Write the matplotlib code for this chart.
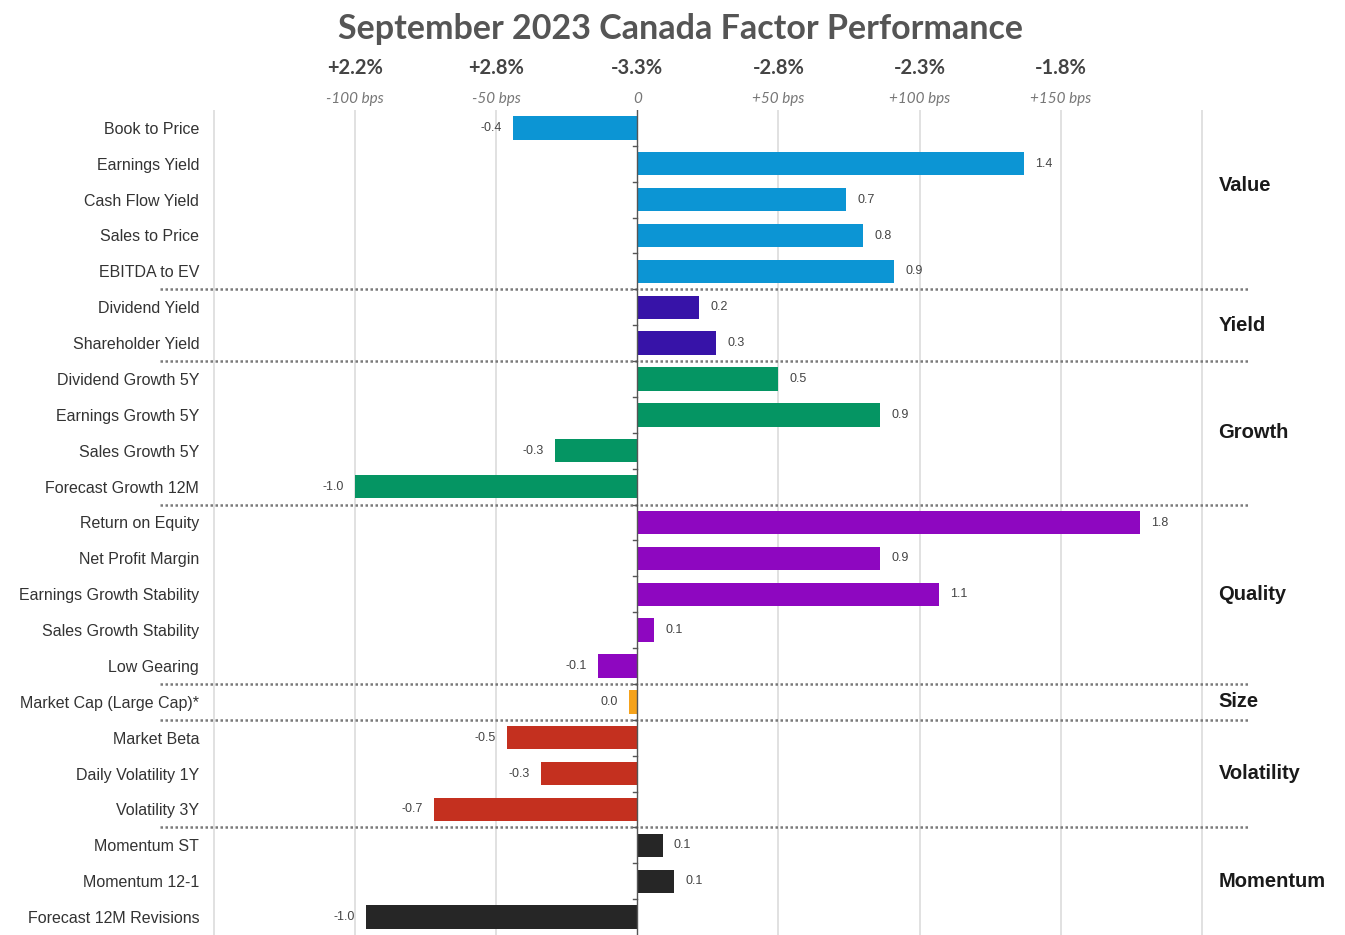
import numpy as np
import matplotlib
matplotlib.use("Agg")
import matplotlib.pyplot as plt
import matplotlib.transforms as mtransforms

# factor names, top to bottom
factors = ["Book to Price", "Earnings Yield", "Cash Flow Yield", "Sales to Price", "EBITDA to EV",
           "Dividend Yield", "Shareholder Yield",
           "Dividend Growth 5Y", "Earnings Growth 5Y", "Sales Growth 5Y", "Forecast Growth 12M",
           "Return on Equity", "Net Profit Margin", "Earnings Growth Stability",
           "Sales Growth Stability", "Low Gearing",
           "Market Cap (Large Cap)*",
           "Market Beta", "Daily Volatility 1Y", "Volatility 3Y",
           "Momentum ST", "Momentum 12-1", "Forecast 12M Revisions"]

# relative performance in %
values = [-0.44, 1.37, 0.74, 0.80, 0.91,
          0.22, 0.28,
          0.50, 0.86, -0.29, -1.00,
          1.78, 0.86, 1.07, 0.06, -0.14,
          -0.03,
          -0.46, -0.34, -0.72,
          0.09, 0.13, -0.96]

groups = ["Value", "Yield", "Growth", "Quality", "Size", "Volatility", "Momentum"]
group_sizes = [5, 2, 4, 5, 1, 3, 3]
group_colors = ["#0C95D4", "#3713A8", "#059563", "#8E07C0", "#F5A21B", "#C4301F", "#262626"]

# top axis labels
top_ticks = [-1.0, -0.5, 0.0, 0.5, 1.0, 1.5]
top_returns = ["+2.2%", "+2.8%", "-3.3%", "-2.8%", "-2.3%", "-1.8%"]
top_bps = ["-100 bps", "-50 bps", "0", "+50 bps", "+100 bps", "+150 bps"]

colors = []
for c, n in zip(group_colors, group_sizes):
    colors += [c] * n

fig = plt.figure(figsize=(13.45, 9.35), dpi=100)
ax = fig.add_axes([160 / 1345, 0.0, 1090 / 1345, 825 / 935])

y = np.arange(len(factors))
ax.barh(y, values, height=0.65, color=colors, zorder=3)

ax.set_ylim(len(factors) - 0.5, -0.5)
ax.set_xlim(-1.69, 2.17)

# vertical grid
for g in np.arange(-1.5, 2.01, 0.5):
    if abs(g) > 1e-9:
        ax.axvline(g, color="#dcdcdc", lw=1.2, zorder=1)
ax.axvline(0, color="#555555", lw=1.0, zorder=4)
# small ticks on the zero line
for b in np.arange(0.5, len(factors) - 0.5, 1):
    ax.plot([-0.015, 0], [b, b], color="#555555", lw=1.0, zorder=4)

for s in ax.spines.values():
    s.set_visible(False)
ax.set_xticks([])
ax.set_yticks([])

trans = mtransforms.blended_transform_factory(ax.transAxes, ax.transData)

# separators and group labels
start = 0
for g, n in zip(groups, group_sizes):
    end = start + n
    if end < len(factors):
        ax.axhline(end - 0.5, color="#7a7a7a", lw=1.8, ls=(0, (1, 1)), zorder=2)
    mid = (start + end - 1) / 2
    if g == "Value":
        mid = 1.6
    ax.text(0.971, mid, g, transform=trans,
            ha="left", va="center", fontsize=14.5, fontweight="bold", color="#1a1a1a",
            family="Liberation Sans", clip_on=False)
    start = end

# category labels
for i, f in enumerate(factors):
    ax.text(0.036, i + 0.04, f, transform=trans, ha="right", va="center",
            fontsize=11.5, color="#333333", family="Liberation Sans")

# value labels
for i, v in enumerate(values):
    txt = f"{v:.1f}"
    if txt == "-0.0":
        txt = "0.0"
    off = 8 if v >= 0 else -8
    if abs(v) < 0.05:
        off = -8
    ax.annotate(txt, (v, i), xytext=(off, 0), textcoords="offset points",
                ha="left" if off > 0 else "right", va="center",
                fontsize=9, color="#444444", family="Liberation Sans")

# top labels
ttrans = mtransforms.blended_transform_factory(ax.transData, ax.transAxes)
for t, r, b in zip(top_ticks, top_returns, top_bps):
    ax.text(t, 1.051, r, transform=ttrans, ha="center", va="center",
            fontsize=14.5, fontweight="bold", color="#444444", family="Lato")
    ax.text(t, 1.013, b, transform=ttrans, ha="center", va="center",
            fontsize=11, style="italic", color="#777777", family="Lato")

fig.text(681 / 1345, 1 - 29 / 935, "September 2023 Canada Factor Performance",
         ha="center", va="center", fontsize=24.5, fontweight="bold", color="#555555", family="Lato")

fig.savefig("out.png", dpi=100)
